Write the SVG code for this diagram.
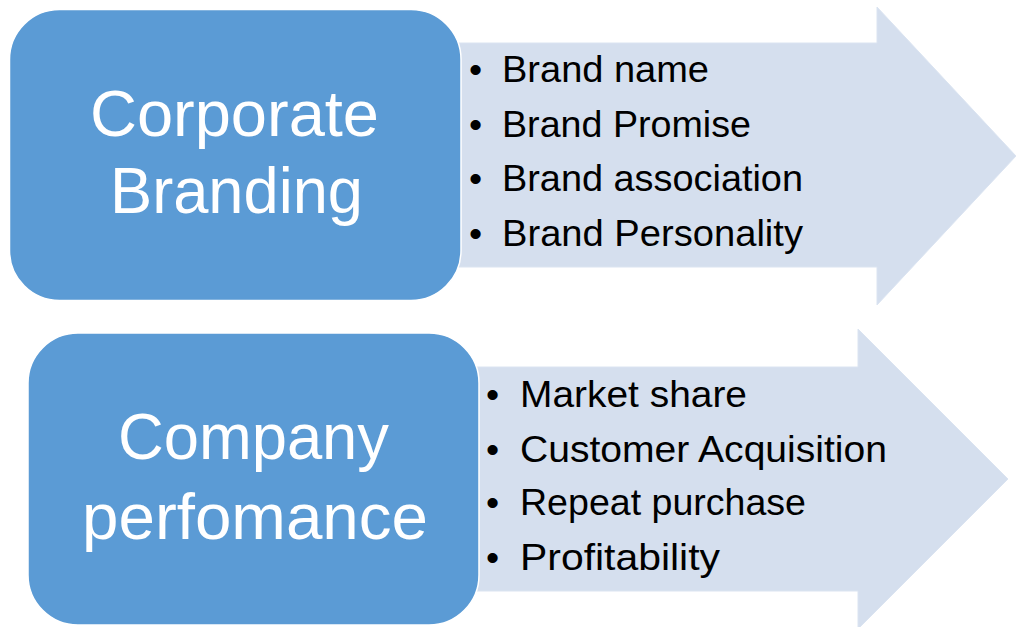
<svg xmlns="http://www.w3.org/2000/svg" width="1016" height="627" viewBox="0 0 1016 627">
<style>
.box{fill:#5b9bd5;stroke:#ffffff;stroke-width:1.5}
.arrow{fill:#d5dfee;stroke:#dbe4f1;stroke-width:1}
.title{font-family:"Liberation Sans",Arial,sans-serif;font-size:65px;fill:#ffffff;text-anchor:middle}
.item{font-family:"Liberation Sans",Arial,sans-serif;font-size:37.5px;fill:#000000}
</style>
<rect width="1016" height="627" fill="#ffffff"/>
<g id="connectors">
<path class="arrow" d="M450 43 H877 V7 L1016 156 L877 305 V267 H450 Z"/>
<path class="arrow" d="M468 367 H858 V329 L1008 479 L858 629 V591 H468 Z"/>
</g>
<g id="node-corporate-branding">
<rect class="box" x="9.5" y="9.5" width="451.5" height="291" rx="50" ry="50"/>
<text class="title" x="234.5" y="136" textLength="289" lengthAdjust="spacingAndGlyphs">Corporate</text>
<text class="title" x="236.5" y="213" textLength="253" lengthAdjust="spacingAndGlyphs">Branding</text>
</g>
<g id="list-branding">
<text class="item" x="469" y="82">•</text><text class="item" x="502" y="82" textLength="207" lengthAdjust="spacingAndGlyphs">Brand name</text>
<text class="item" x="469" y="137">•</text><text class="item" x="502" y="137" textLength="249" lengthAdjust="spacingAndGlyphs">Brand Promise</text>
<text class="item" x="469" y="191">•</text><text class="item" x="502" y="191" textLength="301" lengthAdjust="spacingAndGlyphs">Brand association</text>
<text class="item" x="469" y="246">•</text><text class="item" x="502" y="246" textLength="301" lengthAdjust="spacingAndGlyphs">Brand Personality</text>
</g>
<g id="node-company-performance">
<rect class="box" x="28" y="333" width="451" height="292" rx="50" ry="50"/>
<text class="title" x="253.5" y="459" textLength="271" lengthAdjust="spacingAndGlyphs">Company</text>
<text class="title" x="255" y="539" textLength="346" lengthAdjust="spacingAndGlyphs">perfomance</text>
</g>
<g id="list-performance">
<text class="item" x="486" y="407">•</text><text class="item" x="520" y="407" textLength="227" lengthAdjust="spacingAndGlyphs">Market share</text>
<text class="item" x="486" y="462">•</text><text class="item" x="520" y="462" textLength="367" lengthAdjust="spacingAndGlyphs">Customer Acquisition</text>
<text class="item" x="486" y="515">•</text><text class="item" x="520" y="515" textLength="286" lengthAdjust="spacingAndGlyphs">Repeat purchase</text>
<text class="item" x="486" y="570">•</text><text class="item" x="520" y="570" textLength="200" lengthAdjust="spacingAndGlyphs">Profitability</text>
</g>
</svg>
